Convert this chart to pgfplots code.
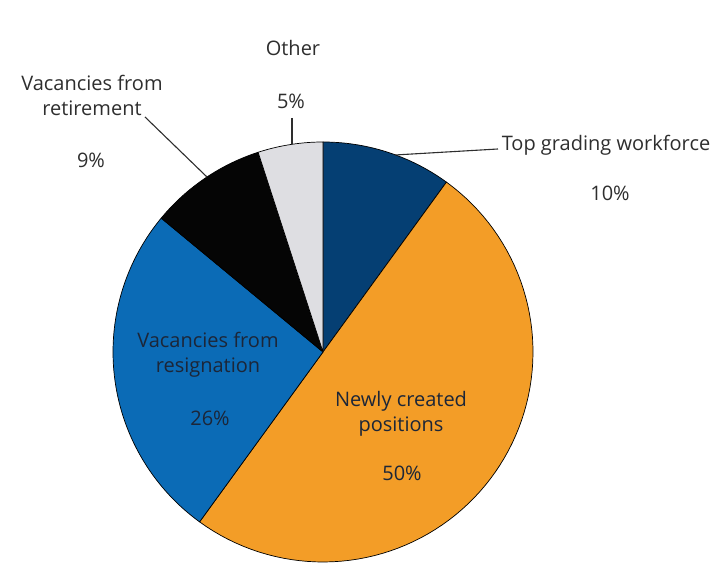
\documentclass[border=0pt]{standalone}
\usepackage{pgfplots}
\pgfplotsset{compat=1.18}
\usepackage{fontspec}
\setmainfont{Open Sans}

\definecolor{cNavy}{HTML}{053F73}
\definecolor{cOrange}{HTML}{F39D27}
\definecolor{cBlue}{HTML}{0B6BB6}
\definecolor{cBlack}{HTML}{050505}
\definecolor{cGrey}{HTML}{DEDEE2}
\definecolor{txt}{HTML}{2E2E2E}
\definecolor{intxt}{HTML}{1C2638}

% shares in percent, clockwise from 12 o'clock
\def\sTop{10}
\def\sNew{50}
\def\sRes{26}
\def\sRet{9}
\def\sOth{5}

% #1 = cumulative share before the slice, #2 = share, #3 = colour
\newcommand\pieslice[3]{%
  \pgfmathsetmacro\aLo{90-3.6*(#1+#2)}%
  \pgfmathsetmacro\aHi{90-3.6*(#1)}%
  \addplot[fill=#3, draw=black, line width=0.7pt, line join=round,
    domain=\aLo:\aHi, samples=80]
    ({323+210*cos(x)}, {228+210*sin(x)}) -- (axis cs:323,228) -- cycle;
}

\begin{document}
\begin{tikzpicture}
\begin{axis}[
  x=1pt, y=1pt,
  xmin=0, xmax=723, ymin=0, ymax=580,
  hide axis, clip=false,
  font=\fontsize{20}{25}\selectfont,
]
\draw[draw=none] (axis cs:0,0) rectangle (axis cs:723,580);

\pieslice{0}{\sTop}{cNavy}
\pieslice{\sTop}{\sNew}{cOrange}
\pieslice{\sTop+\sNew}{\sRes}{cBlue}
\pieslice{\sTop+\sNew+\sRes}{\sRet}{cBlack}
\pieslice{\sTop+\sNew+\sRes+\sRet}{\sOth}{cGrey}

% leader lines
\draw[txt, line width=1.1pt] (axis cs:292,462) -- (axis cs:292,436);
\draw[txt, line width=1.1pt] (axis cs:145,463) -- (axis cs:207,403);
\draw[txt, line width=1.1pt] (axis cs:395,425) -- (axis cs:498,431);

% outside labels
\node[txt] at (axis cs:293,532) {Other};
\node[txt] at (axis cs:291,479) {5\%};
\node[txt, align=center] at (axis cs:92,485) {Vacancies from\\retirement};
\node[txt] at (axis cs:91,420) {9\%};
\node[txt] at (axis cs:606,435) {Top grading workforce};
\node[txt] at (axis cs:610,387) {10\%};

% inside labels
\node[intxt, align=center] at (axis cs:208,225) {Vacancies from\\resignation};
\node[intxt] at (axis cs:210,162) {26\%};
\node[intxt, align=center] at (axis cs:401,166) {Newly created\\positions};
\node[intxt] at (axis cs:402,107) {50\%};
\end{axis}
\end{tikzpicture}
\end{document}
